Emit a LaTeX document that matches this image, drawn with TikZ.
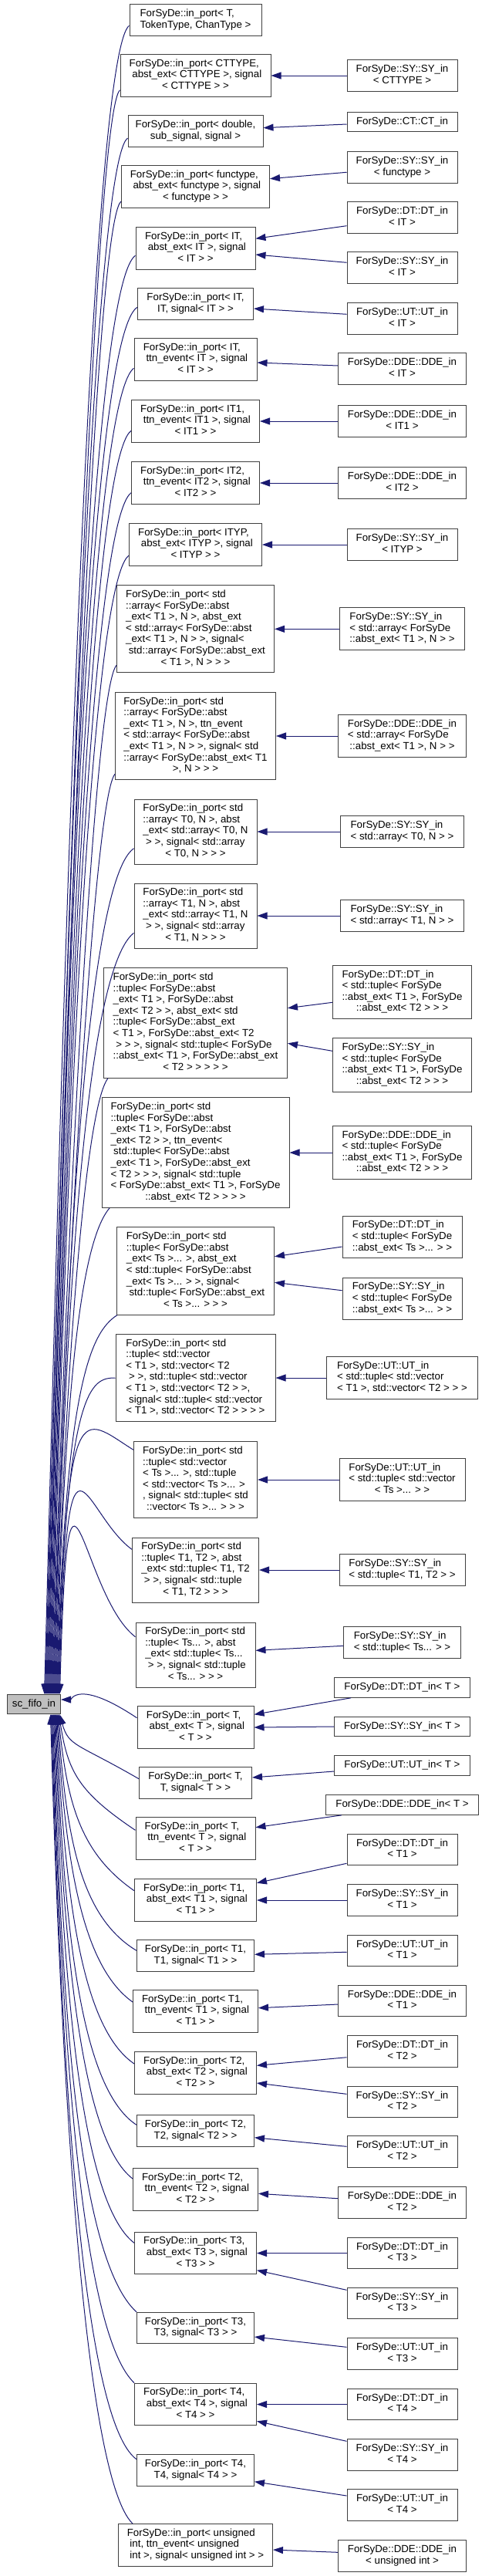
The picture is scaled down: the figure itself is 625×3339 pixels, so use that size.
\documentclass[tikz,border=0pt]{standalone}
\usepackage{fontspec}
\setmainfont{Liberation Sans}
\usetikzlibrary{arrows.meta,calc}
\definecolor{edgec}{HTML}{191970}
\definecolor{boxc}{HTML}{404040}
\definecolor{rootfill}{HTML}{BFBFBF}
\newcommand\dxfont{\fontsize{13.3bp}{14.6bp}\selectfont}
\newcommand\lsp{\hspace*{0.278em}}
\newcommand\dxl[1]{\begin{tabular}{@{}l@{}}#1\end{tabular}}
\newcommand\dxc[1]{\multicolumn{1}{@{}c@{}}{#1}}
\tikzset{
  box/.style={draw=boxc, line width=1bp, fill=white, inner sep=0pt, font=\dxfont},
  sz/.style 2 args={minimum width=#1bp, minimum height=#2bp},
  inh/.style={draw=edgec, line width=1bp, {Triangle[length=13bp,width=9bp]}-},
}
\begin{document}
\begin{tikzpicture}[x=1bp,y=-1bp]
\fill[white] (0,0) rectangle (625,3339);
\useasboundingbox (0,0) rectangle (625,3339);

% root
\node[box, fill=rootfill, sz={69}{25.6}] (fifo) at (44,2209) {sc\_fifo\_in};

% middle column
\node[box,sz={171}{40.3}] (M1) at (253.5,26) {\dxl{ForSyDe::in\_port< T,\\ \dxc{TokenType, ChanType >}}};
\node[box,sz={195}{54.8}] (M2) at (253.5,98) {\dxl{ForSyDe::in\_port< CTTYPE,\\ \lsp abst\_ext< CTTYPE >, signal\\ \dxc{< CTTYPE > >}}};
\node[box,sz={175}{40.3}] (M3) at (253.5,170) {\dxl{ForSyDe::in\_port< double,\\ \dxc{sub\_signal, signal >}}};
\node[box,sz={192}{54.8}] (M4) at (253.5,242) {\dxl{ForSyDe::in\_port< functype,\\ \lsp abst\_ext< functype >, signal\\ \dxc{< functype > >}}};
\node[box,sz={155}{54.8}] (M5) at (253.5,322) {\dxl{ForSyDe::in\_port< IT,\\ \lsp abst\_ext< IT >, signal\\ \dxc{< IT > >}}};
\node[box,sz={150}{40.3}] (M6) at (253.5,394) {\dxl{ForSyDe::in\_port< IT,\\ \dxc{IT, signal< IT > >}}};
\node[box,sz={159}{54.8}] (M7) at (253.5,466) {\dxl{ForSyDe::in\_port< IT,\\ \lsp ttn\_event< IT >, signal\\ \dxc{< IT > >}}};
\node[box,sz={166}{54.8}] (M8) at (253.5,546) {\dxl{ForSyDe::in\_port< IT1,\\ \lsp ttn\_event< IT1 >, signal\\ \dxc{< IT1 > >}}};
\node[box,sz={166}{54.8}] (M9) at (253.5,626) {\dxl{ForSyDe::in\_port< IT2,\\ \lsp ttn\_event< IT2 >, signal\\ \dxc{< IT2 > >}}};
\node[box,sz={172}{54.8}] (M10) at (253.5,706) {\dxl{ForSyDe::in\_port< ITYP,\\ \lsp abst\_ext< ITYP >, signal\\ \dxc{< ITYP > >}}};
\node[box,sz={204}{113.2}] (M11) at (253.5,815.3) {\dxl{ForSyDe::in\_port< std\\ ::array< ForSyDe::abst\\ \_ext< T1 >, N >, abst\_ext\\ < std::array< ForSyDe::abst\\ \_ext< T1 >, N > >, signal<\\ \lsp std::array< ForSyDe::abst\_ext\\ \dxc{< T1 >, N > > >}}};
\node[box,sz={208}{113.2}] (M12) at (253.5,954) {\dxl{ForSyDe::in\_port< std\\ ::array< ForSyDe::abst\\ \_ext< T1 >, N >, ttn\_event\\ < std::array< ForSyDe::abst\\ \_ext< T1 >, N > >, signal< std\\ ::array< ForSyDe::abst\_ext< T1\\ \dxc{>, N > > >}}};
\node[box,sz={159}{84}] (M13) at (253.5,1078) {\dxl{ForSyDe::in\_port< std\\ ::array< T0, N >, abst\\ \_ext< std::array< T0, N\\ \lsp > >, signal< std::array\\ \dxc{< T0, N > > >}}};
\node[box,sz={159}{84}] (M14) at (253.5,1187) {\dxl{ForSyDe::in\_port< std\\ ::array< T1, N >, abst\\ \_ext< std::array< T1, N\\ \lsp > >, signal< std::array\\ \dxc{< T1, N > > >}}};
\node[box,sz={238}{142.4}] (M15) at (253.5,1326) {\dxl{ForSyDe::in\_port< std\\ ::tuple< ForSyDe::abst\\ \_ext< T1 >, ForSyDe::abst\\ \_ext< T2 > >, abst\_ext< std\\ ::tuple< ForSyDe::abst\_ext\\ < T1 >, ForSyDe::abst\_ext< T2\\ \lsp > > >, signal< std::tuple< ForSyDe\\ ::abst\_ext< T1 >, ForSyDe::abst\_ext\\ \dxc{< T2 > > > > >}}};
\node[box,sz={243}{142.4}] (M16) at (253.5,1494) {\dxl{ForSyDe::in\_port< std\\ ::tuple< ForSyDe::abst\\ \_ext< T1 >, ForSyDe::abst\\ \_ext< T2 > >, ttn\_event<\\ \lsp std::tuple< ForSyDe::abst\\ \_ext< T1 >, ForSyDe::abst\_ext\\ < T2 > > >, signal< std::tuple\\ < ForSyDe::abst\_ext< T1 >, ForSyDe\\ \dxc{::abst\_ext< T2 > > > >}}};
\node[box,sz={204}{113.2}] (M17) at (253.5,1647.5) {\dxl{ForSyDe::in\_port< std\\ ::tuple< ForSyDe::abst\\ \_ext< Ts >... >, abst\_ext\\ < std::tuple< ForSyDe::abst\\ \_ext< Ts >... > >, signal<\\ \lsp std::tuple< ForSyDe::abst\_ext\\ \dxc{< Ts >... > > >}}};
\node[box,sz={207}{113.2}] (M18) at (253.5,1786) {\dxl{ForSyDe::in\_port< std\\ ::tuple< std::vector\\ < T1 >, std::vector< T2\\ \lsp > >, std::tuple< std::vector\\ < T1 >, std::vector< T2 > >,\\ \lsp signal< std::tuple< std::vector\\ \dxc{< T1 >, std::vector< T2 > > > >}}};
\node[box,sz={160}{98.6}] (M19) at (253.5,1918) {\dxl{ForSyDe::in\_port< std\\ ::tuple< std::vector\\ < Ts >... >, std::tuple\\ < std::vector< Ts >... >\\ , signal< std::tuple< std\\ \dxc{::vector< Ts >... > > >}}};
\node[box,sz={164}{84}] (M20) at (253.5,2035) {\dxl{ForSyDe::in\_port< std\\ ::tuple< T1, T2 >, abst\\ \_ext< std::tuple< T1, T2\\ \lsp > >, signal< std::tuple\\ \dxc{< T1, T2 > > >}}};
\node[box,sz={155}{84}] (M21) at (253.5,2145) {\dxl{ForSyDe::in\_port< std\\ ::tuple< Ts... >, abst\\ \_ext< std::tuple< Ts...\\ \lsp > >, signal< std::tuple\\ \dxc{< Ts... > > >}}};
\node[box,sz={151}{54.8}] (M22) at (253.5,2239) {\dxl{ForSyDe::in\_port< T,\\ \lsp abst\_ext< T >, signal\\ \dxc{< T > >}}};
\node[box,sz={146}{40.3}] (M23) at (253.5,2311) {\dxl{ForSyDe::in\_port< T,\\ \dxc{T, signal< T > >}}};
\node[box,sz={155}{54.8}] (M24) at (253.5,2383) {\dxl{ForSyDe::in\_port< T,\\ \lsp ttn\_event< T >, signal\\ \dxc{< T > >}}};
\node[box,sz={158}{54.8}] (M25) at (253.5,2463) {\dxl{ForSyDe::in\_port< T1,\\ \lsp abst\_ext< T1 >, signal\\ \dxc{< T1 > >}}};
\node[box,sz={152}{40.3}] (M26) at (253.5,2535) {\dxl{ForSyDe::in\_port< T1,\\ \dxc{T1, signal< T1 > >}}};
\node[box,sz={162}{54.8}] (M27) at (253.5,2607) {\dxl{ForSyDe::in\_port< T1,\\ \lsp ttn\_event< T1 >, signal\\ \dxc{< T1 > >}}};
\node[box,sz={158}{54.8}] (M28) at (253.5,2687) {\dxl{ForSyDe::in\_port< T2,\\ \lsp abst\_ext< T2 >, signal\\ \dxc{< T2 > >}}};
\node[box,sz={152}{40.3}] (M29) at (253.5,2762) {\dxl{ForSyDe::in\_port< T2,\\ \dxc{T2, signal< T2 > >}}};
\node[box,sz={162}{54.8}] (M30) at (253.5,2838) {\dxl{ForSyDe::in\_port< T2,\\ \lsp ttn\_event< T2 >, signal\\ \dxc{< T2 > >}}};
\node[box,sz={158}{54.8}] (M31) at (253.5,2920.5) {\dxl{ForSyDe::in\_port< T3,\\ \lsp abst\_ext< T3 >, signal\\ \dxc{< T3 > >}}};
\node[box,sz={152}{40.3}] (M32) at (253.5,3017.5) {\dxl{ForSyDe::in\_port< T3,\\ \dxc{T3, signal< T3 > >}}};
\node[box,sz={158}{54.8}] (M33) at (253.5,3116.5) {\dxl{ForSyDe::in\_port< T4,\\ \lsp abst\_ext< T4 >, signal\\ \dxc{< T4 > >}}};
\node[box,sz={152}{40.3}] (M34) at (253.5,3202) {\dxl{ForSyDe::in\_port< T4,\\ \dxc{T4, signal< T4 > >}}};
\node[box,sz={200}{54.8}] (M35) at (253.5,3299) {\dxl{ForSyDe::in\_port< unsigned\\ \lsp int, ttn\_event< unsigned\\ \dxc{\lsp int >, signal< unsigned int > >}}};

% right column
\node[box,sz={143}{40.3}] (R2) at (521.5,98) {\dxl{ForSyDe::SY::SY\_in\\ \dxc{< CTTYPE >}}};
\node[box,sz={143}{25.6}] (R3) at (521.5,158) {ForSyDe::CT::CT\_in};
\node[box,sz={143}{40.3}] (R4) at (521.5,217) {\dxl{ForSyDe::SY::SY\_in\\ \dxc{< functype >}}};
\node[box,sz={143}{40.3}] (R5a) at (521.5,282) {\dxl{ForSyDe::DT::DT\_in\\ \dxc{< IT >}}};
\node[box,sz={143}{40.3}] (R5b) at (521.5,347) {\dxl{ForSyDe::SY::SY\_in\\ \dxc{< IT >}}};
\node[box,sz={143}{40.3}] (R6) at (521.5,413) {\dxl{ForSyDe::UT::UT\_in\\ \dxc{< IT >}}};
\node[box,sz={166}{40.3}] (R7) at (521.5,478) {\dxl{ForSyDe::DDE::DDE\_in\\ \dxc{< IT >}}};
\node[box,sz={166}{40.3}] (R8) at (521.5,546) {\dxl{ForSyDe::DDE::DDE\_in\\ \dxc{< IT1 >}}};
\node[box,sz={166}{40.3}] (R9) at (521.5,626) {\dxl{ForSyDe::DDE::DDE\_in\\ \dxc{< IT2 >}}};
\node[box,sz={143}{40.3}] (R10) at (521.5,706) {\dxl{ForSyDe::SY::SY\_in\\ \dxc{< ITYP >}}};
\node[box,sz={162}{54.8}] (R11) at (521.5,815.3) {\dxl{ForSyDe::SY::SY\_in\\ < std::array< ForSyDe\\ \dxc{::abst\_ext< T1 >, N > >}}};
\node[box,sz={166}{54.8}] (R12) at (521.5,954) {\dxl{ForSyDe::DDE::DDE\_in\\ < std::array< ForSyDe\\ \dxc{::abst\_ext< T1 >, N > >}}};
\node[box,sz={160}{40.3}] (R13) at (521.5,1078) {\dxl{ForSyDe::SY::SY\_in\\ \dxc{< std::array< T0, N > >}}};
\node[box,sz={160}{40.3}] (R14) at (521.5,1187) {\dxl{ForSyDe::SY::SY\_in\\ \dxc{< std::array< T1, N > >}}};
\node[box,sz={180}{69.4}] (R15a) at (521.5,1286) {\dxl{ForSyDe::DT::DT\_in\\ < std::tuple< ForSyDe\\ ::abst\_ext< T1 >, ForSyDe\\ \dxc{::abst\_ext< T2 > > >}}};
\node[box,sz={180}{69.4}] (R15b) at (521.5,1380.5) {\dxl{ForSyDe::SY::SY\_in\\ < std::tuple< ForSyDe\\ ::abst\_ext< T1 >, ForSyDe\\ \dxc{::abst\_ext< T2 > > >}}};
\node[box,sz={180}{69.4}] (R16) at (521.5,1494) {\dxl{ForSyDe::DDE::DDE\_in\\ < std::tuple< ForSyDe\\ ::abst\_ext< T1 >, ForSyDe\\ \dxc{::abst\_ext< T2 > > >}}};
\node[box,sz={155}{54.8}] (R17a) at (521.5,1603.5) {\dxl{ForSyDe::DT::DT\_in\\ < std::tuple< ForSyDe\\ \dxc{::abst\_ext< Ts >... > >}}};
\node[box,sz={155}{54.8}] (R17b) at (521.5,1683.5) {\dxl{ForSyDe::SY::SY\_in\\ < std::tuple< ForSyDe\\ \dxc{::abst\_ext< Ts >... > >}}};
\node[box,sz={196}{54.8}] (R18) at (521.5,1786) {\dxl{ForSyDe::UT::UT\_in\\ < std::tuple< std::vector\\ \dxc{< T1 >, std::vector< T2 > > >}}};
\node[box,sz={163}{54.8}] (R19) at (521.5,1918) {\dxl{ForSyDe::UT::UT\_in\\ < std::tuple< std::vector\\ \dxc{< Ts >... > >}}};
\node[box,sz={163}{40.3}] (R20) at (521.5,2035) {\dxl{ForSyDe::SY::SY\_in\\ \dxc{< std::tuple< T1, T2 > >}}};
\node[box,sz={152}{40.3}] (R21) at (521.5,2129) {\dxl{ForSyDe::SY::SY\_in\\ \dxc{< std::tuple< Ts... > >}}};
\node[box,sz={176}{25.6}] (R22a) at (521.5,2187.5) {ForSyDe::DT::DT\_in< T >};
\node[box,sz={176}{25.6}] (R22b) at (521.5,2238) {ForSyDe::SY::SY\_in< T >};
\node[box,sz={176}{25.6}] (R23) at (521.5,2288.5) {ForSyDe::UT::UT\_in< T >};
\node[box,sz={198}{25.6}] (R24) at (521.5,2339.5) {ForSyDe::DDE::DDE\_in< T >};
\node[box,sz={143}{40.3}] (R25a) at (521.5,2397.5) {\dxl{ForSyDe::DT::DT\_in\\ \dxc{< T1 >}}};
\node[box,sz={143}{40.3}] (R25b) at (521.5,2463) {\dxl{ForSyDe::SY::SY\_in\\ \dxc{< T1 >}}};
\node[box,sz={143}{40.3}] (R26) at (521.5,2528.5) {\dxl{ForSyDe::UT::UT\_in\\ \dxc{< T1 >}}};
\node[box,sz={166}{40.3}] (R27) at (521.5,2593.5) {\dxl{ForSyDe::DDE::DDE\_in\\ \dxc{< T1 >}}};
\node[box,sz={143}{40.3}] (R28a) at (521.5,2659) {\dxl{ForSyDe::DT::DT\_in\\ \dxc{< T2 >}}};
\node[box,sz={143}{40.3}] (R28b) at (521.5,2724.5) {\dxl{ForSyDe::SY::SY\_in\\ \dxc{< T2 >}}};
\node[box,sz={143}{40.3}] (R29) at (521.5,2789) {\dxl{ForSyDe::UT::UT\_in\\ \dxc{< T2 >}}};
\node[box,sz={166}{40.3}] (R30) at (521.5,2855) {\dxl{ForSyDe::DDE::DDE\_in\\ \dxc{< T2 >}}};
\node[box,sz={143}{40.3}] (R31a) at (521.5,2920.5) {\dxl{ForSyDe::DT::DT\_in\\ \dxc{< T3 >}}};
\node[box,sz={143}{40.3}] (R31b) at (521.5,2985.5) {\dxl{ForSyDe::SY::SY\_in\\ \dxc{< T3 >}}};
\node[box,sz={143}{40.3}] (R32) at (521.5,3051) {\dxl{ForSyDe::UT::UT\_in\\ \dxc{< T3 >}}};
\node[box,sz={143}{40.3}] (R33a) at (521.5,3116.5) {\dxl{ForSyDe::DT::DT\_in\\ \dxc{< T4 >}}};
\node[box,sz={143}{40.3}] (R33b) at (521.5,3182) {\dxl{ForSyDe::SY::SY\_in\\ \dxc{< T4 >}}};
\node[box,sz={143}{40.3}] (R34) at (521.5,3247) {\dxl{ForSyDe::UT::UT\_in\\ \dxc{< T4 >}}};
\node[box,sz={166}{40.3}] (R35) at (521.5,3313) {\dxl{ForSyDe::DDE::DDE\_in\\ \dxc{< unsigned int >}}};

% middle <- right edges
\draw[inh] (M2.east) -- (R2.west);
\draw[inh] ($(M3.east)+(0,-4.3)$) -- ($(R3.west)+(0,3)$);
\draw[inh] ($(M4.east)+(0,-10.3)$) -- ($(R4.west)+(0,6.3)$);
\draw[inh] ($(M5.east)+(0,-12.7)$) -- ($(R5a.west)+(0,10.7)$);
\draw[inh] ($(M5.east)+(0,8)$) -- ($(R5b.west)+(0,-6.7)$);
\draw[inh] ($(M6.east)+(0,6)$) -- ($(R6.west)+(0,-5.7)$);
\draw[inh] ($(M7.east)+(0,4)$) -- ($(R7.west)+(0,-4)$);
\draw[inh] (M8.east) -- (R8.west);
\draw[inh] (M9.east) -- (R9.west);
\draw[inh] (M10.east) -- (R10.west);
\draw[inh] (M11.east) -- (R11.west);
\draw[inh] (M12.east) -- (R12.west);
\draw[inh] (M13.east) -- (R13.west);
\draw[inh] (M14.east) -- (R14.west);
\draw[inh] ($(M15.east)+(0,-19.3)$) -- ($(R15a.west)+(0,13.3)$);
\draw[inh] ($(M15.east)+(0,26.3)$) -- ($(R15b.west)+(0,-18.2)$);
\draw[inh] (M16.east) -- (R16.west);
\draw[inh] ($(M17.east)+(0,-18.8)$) -- ($(R17a.west)+(0,12.5)$);
\draw[inh] ($(M17.east)+(0,14.8)$) -- ($(R17b.west)+(0,-10.8)$);
\draw[inh] (M18.east) -- (R18.west);
\draw[inh] (M19.east) -- (R19.west);
\draw[inh] (M20.east) -- (R20.west);
\draw[inh] ($(M21.east)+(0,-5.7)$) -- ($(R21.west)+(0,4.3)$);
\draw[inh] ($(M22.east)+(0,-16.7)$) -- ($(R22a.south west)+(22,0)$);
\draw[inh] (M22.east) -- (R22b.west);
\draw[inh] ($(M23.east)+(0,-7)$) -- ($(R23.west)+(0,7.5)$);
\draw[inh] ($(M24.east)+(0,-14.3)$) -- ($(R24.south west)+(21,0)$);
\draw[inh] ($(M25.east)+(0,-22.3)$) -- ($(R25a.west)+(0,17.8)$);
\draw[inh] (M25.east) -- (R25b.west);
\draw[inh] ($(M26.east)+(0,-1.7)$) -- ($(R26.west)+(0,1.8)$);
\draw[inh] ($(M27.east)+(0,-4.3)$) -- ($(R27.west)+(0,4.5)$);
\draw[inh] ($(M28.east)+(0,-9.7)$) -- ($(R28a.west)+(0,7.7)$);
\draw[inh] ($(M28.east)+(0,13)$) -- ($(R28b.west)+(0,-10.2)$);
\draw[inh] ($(M29.east)+(0,8.7)$) -- ($(R29.west)+(0,-6.7)$);
\draw[inh] ($(M30.east)+(0,5.3)$) -- ($(R30.west)+(0,-5.3)$);
\draw[inh] (M31.east) -- (R31a.west);
\draw[inh] ($(M31.east)+(0,22.2)$) -- ($(R31b.west)+(0,-17.2)$);
\draw[inh] ($(M32.east)+(0,11.5)$) -- ($(R32.west)+(0,-8.7)$);
\draw[inh] (M33.east) -- (R33a.west);
\draw[inh] ($(M33.east)+(0,21.8)$) -- ($(R33b.west)+(0,-17.7)$);
\draw[inh] ($(M34.east)+(0,14.7)$) -- ($(R34.west)+(0,-12)$);
\draw[inh] ($(M35.east)+(0,6)$) -- ($(R35.west)+(0,-4.7)$);

% root <- middle edges (upward)
\draw[inh] ($(fifo.north east)+(-21.5,0)$) .. controls (69,1796) and (107.2,78.7) .. ($(M1.west)+(0,7.3)$);
\draw[inh] ($(fifo.north east)+(-20.5,0)$) .. controls (70,1796) and (114.4,154) .. ($(M2.west)+(0,18.7)$);
\draw[inh] ($(fifo.north east)+(-19.5,0)$) .. controls (71,1796) and (108.4,220.6) .. ($(M3.west)+(0,9)$);
\draw[inh] ($(fifo.north east)+(-18.5,0)$) .. controls (72,1796) and (113.8,296.7) .. ($(M4.west)+(0,19)$);
\draw[inh] ($(fifo.north east)+(-17.5,0)$) .. controls (73,1796) and (102.6,382.5) .. ($(M5.west)+(0,9.3)$);
\draw[inh] ($(fifo.north east)+(-16.5,0)$) .. controls (74,1796) and (101,446.3) .. ($(M6.west)+(0,4.3)$);
\draw[inh] ($(fifo.north east)+(-15.5,0)$) .. controls (75,1796) and (103.8,529.6) .. ($(M7.west)+(0,11.3)$);
\draw[inh] ($(fifo.north east)+(-14.5,0)$) .. controls (76,1796) and (105.8,606.3) .. ($(M8.west)+(0,12.3)$);
\draw[inh] ($(fifo.north east)+(-13.5,0)$) .. controls (77,1796) and (105.8,688.8) .. ($(M9.west)+(0,12.7)$);
\draw[inh] ($(fifo.north east)+(-12.5,0)$) .. controls (78,1796) and (108,765.3) .. ($(M10.west)+(0,14)$);
\draw[inh] ($(fifo.north east)+(-11.5,0)$) .. controls (79,1796) and (117.2,901.3) .. ($(M11.west)+(0,47)$);
\draw[inh] ($(fifo.north east)+(-10.5,0)$) .. controls (80,1796) and (118.6,1040.7) .. ($(M12.west)+(0,49.3)$);
\draw[inh] ($(fifo.north east)+(-9.5,0)$) .. controls (81,1796) and (103.8,1148.2) .. ($(M13.west)+(0,21.7)$);
\draw[inh] ($(fifo.north east)+(-8.5,0)$) .. controls (82,1796) and (103.8,1263.7) .. ($(M14.west)+(0,22.3)$);
\draw[inh] ($(fifo.north east)+(-7.5,0)$) .. controls (83,1796) and (110,1435.3) .. ($(M15.south west)+(6,0)$);
\draw[inh] ($(fifo.north east)+(-6.5,0)$) .. controls (84,1796) and (104.7,1609.3) .. ($(M16.south west)+(10.7,0)$);
\draw[inh] ($(fifo.north east)+(-5.5,0)$) .. controls (85,1796) and (117,1726.9) .. ($(M17.south west)+(1,0)$);
\draw[inh] ($(fifo.north east)+(-4.5,0)$) .. controls (86,1796) and (118,1786) .. (M18.west);
\draw[inh] ($(fifo.north east)+(-3.5,0)$) .. controls (87,1796) and (104.2,1836.1) .. ($(M19.west)+(0,-38.7)$);
\draw[inh] ($(fifo.north east)+(-2.5,0)$) .. controls (88,1796) and (105.2,1960.3) .. ($(M20.west)+(0,-26.7)$);
\draw[inh] ($(fifo.north east)+(-1.5,0)$) .. controls (89,1796) and (102.6,2065.7) .. ($(M21.west)+(0,-23.3)$);
% root <- middle edges (downward)
\draw[inh] ($(fifo.east)+(0,-6)$) .. controls (92,2203) and (101.4,2176) .. ($(M22.west)+(0,-12.3)$);
\draw[inh] ($(fifo.south east)+(-1.5,0)$) .. controls (89,2264) and (99.8,2259.3) .. ($(M23.west)+(0,-5.3)$);
\draw[inh] ($(fifo.south east)+(-2.5,0)$) .. controls (88,2297) and (102.6,2323.3) .. ($(M24.west)+(0,-10.7)$);
\draw[inh] ($(fifo.south east)+(-3.5,0)$) .. controls (87,2336) and (103.4,2401.6) .. ($(M25.west)+(0,-12.3)$);
\draw[inh] ($(fifo.south east)+(-4.5,0)$) .. controls (86,2375) and (101.8,2483) .. ($(M26.west)+(0,-6.7)$);
\draw[inh] ($(fifo.south east)+(-5.5,0)$) .. controls (85,2408.5) and (104.6,2547) .. ($(M27.west)+(0,-12)$);
\draw[inh] ($(fifo.south east)+(-6.5,0)$) .. controls (84,2448.5) and (103.4,2627) .. ($(M28.west)+(0,-12)$);
\draw[inh] ($(fifo.south east)+(-7.5,0)$) .. controls (83,2488) and (101.8,2704.7) .. ($(M29.west)+(0,-7.7)$);
\draw[inh] ($(fifo.south east)+(-8.5,0)$) .. controls (82,2523) and (104.6,2772.3) .. ($(M30.west)+(0,-14)$);
\draw[inh] ($(fifo.south east)+(-9.5,0)$) .. controls (81,2564.7) and (103.4,2852.9) .. ($(M31.west)+(0,-13.2)$);
\draw[inh] ($(fifo.south east)+(-10.5,0)$) .. controls (80,2609) and (101.8,2927.3) .. (M32.north west);
\draw[inh] ($(fifo.south east)+(-11.5,0)$) .. controls (79,2622) and (103.6,3021.5) .. (M33.north west);
\draw[inh] ($(fifo.south east)+(-12.5,0)$) .. controls (78,2622) and (101.8,3132.7) .. ($(M34.west)+(0,-14.3)$);
\draw[inh] ($(fifo.south east)+(-13.5,0)$) .. controls (77,2622) and (104.8,3205.6) .. ($(M35.north west)+(19,0)$);
\end{tikzpicture}
\end{document}
